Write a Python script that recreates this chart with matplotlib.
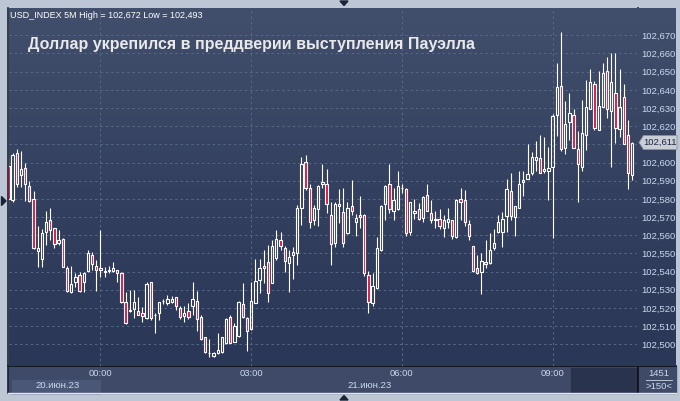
import numpy as np
import pandas as pd
import matplotlib.pyplot as plt
from matplotlib.colors import LinearSegmentedColormap
from matplotlib.patches import Rectangle, Polygon

# USD_INDEX, 5-minute candles, 20-21 June 2023
times = pd.date_range("2023-06-20 22:10", periods=150, freq="5min")

opens = [102.598, 102.5795, 102.6052, 102.5929, 102.5969, 102.5872, 102.5799, 102.5515, 102.5468, 102.562,
         102.5684, 102.5639, 102.5559, 102.558, 102.5418, 102.5289, 102.5341, 102.5381, 102.5345, 102.5403,
         102.5492, 102.5431, 102.5409, 102.5403, 102.5405, 102.5405, 102.5409, 102.5391, 102.5231, 102.5189,
         102.5194, 102.5183, 102.517, 102.5143, 102.5341, 102.5161, 102.517, 102.5236, 102.5229, 102.5234,
         102.5259, 102.5198, 102.5157, 102.5183, 102.5211, 102.5238, 102.5148, 102.5038, 102.495, 102.4937,
         102.495, 102.4956, 102.5005, 102.5148, 102.5014, 102.5045, 102.5222, 102.5143, 102.5082, 102.5229,
         102.5354, 102.5431, 102.5455, 102.5339, 102.5473, 102.5574, 102.5529, 102.5449, 102.5492, 102.5501,
         102.5749, 102.6002, 102.5859, 102.5681, 102.5743, 102.5881, 102.5881, 102.5712, 102.5556, 102.5758,
         102.5725, 102.5611, 102.5762, 102.5672, 102.5712, 102.5712, 102.5381, 102.5229, 102.5308, 102.5519,
         102.5771, 102.5883, 102.5734, 102.5743, 102.5859, 102.5854, 102.562, 102.5721, 102.5743, 102.5697,
         102.5822, 102.5721, 102.569, 102.569, 102.5639, 102.5672, 102.5684, 102.5589, 102.5799, 102.5795,
         102.5661, 102.5541, 102.5418, 102.54, 102.5453, 102.5446, 102.5529, 102.562, 102.562, 102.5703,
         102.5844, 102.5699, 102.5749, 102.5892, 102.591, 102.5942, 102.6015, 102.6024, 102.5951, 102.5951,
         102.5978, 102.6259, 102.6423, 102.608, 102.6223, 102.6259, 102.6074, 102.5978, 102.6153, 102.6294,
         102.6432, 102.618, 102.6305, 102.6502, 102.6285, 102.6383, 102.6184, 102.6361, 102.6149, 102.5932]
highs = [102.603, 102.6054, 102.6076, 102.6065, 102.5999, 102.5896, 102.5844, 102.5651, 102.5633, 102.5734,
         102.5751, 102.5642, 102.5629, 102.5582, 102.5431, 102.5431, 102.5392, 102.54, 102.54, 102.5519,
         102.551, 102.5464, 102.5629, 102.5426, 102.5431, 102.5453, 102.5409, 102.54, 102.5289, 102.5299,
         102.5299, 102.5262, 102.5207, 102.5345, 102.5345, 102.517, 102.5234, 102.5249, 102.5271, 102.5266,
         102.5262, 102.5211, 102.5211, 102.5226, 102.5345, 102.5293, 102.5161, 102.504, 102.5027, 102.4959,
         102.506, 102.5041, 102.5146, 102.5161, 102.5115, 102.5238, 102.5336, 102.5152, 102.5345, 102.5468,
         102.5468, 102.5519, 102.5547, 102.5574, 102.5629, 102.5615, 102.5541, 102.5519, 102.5537, 102.5767,
         102.6033, 102.6043, 102.5883, 102.5767, 102.5874, 102.5993, 102.5966, 102.5782, 102.5785, 102.5855,
         102.5859, 102.5785, 102.5905, 102.5718, 102.5813, 102.5714, 102.5403, 102.5394, 102.5592, 102.5764,
         102.5874, 102.5993, 102.5859, 102.5954, 102.5883, 102.5859, 102.5784, 102.5799, 102.5777, 102.5813,
         102.5883, 102.5795, 102.5734, 102.5745, 102.5712, 102.5749, 102.5686, 102.5797, 102.5859, 102.585,
         102.5684, 102.5543, 102.5492, 102.5501, 102.5574, 102.5611, 102.5633, 102.5712, 102.573, 102.5909,
         102.5942, 102.5763, 102.5954, 102.5954, 102.6103, 102.6058, 102.6116, 102.6153, 102.6138, 102.6083,
         102.6269, 102.6548, 102.672, 102.6336, 102.6383, 102.6296, 102.6175, 102.6346, 102.6456, 102.6515,
         102.6447, 102.6502, 102.6548, 102.6579, 102.6603, 102.6603, 102.6517, 102.6434, 102.6236, 102.6113]
lows = [102.5745, 102.5782, 102.5868, 102.5868, 102.5789, 102.578, 102.5525, 102.5427, 102.5427, 102.5547,
        102.5574, 102.5529, 102.5547, 102.5425, 102.529, 102.5281, 102.5317, 102.5289, 102.5289, 102.54,
        102.5409, 102.5293, 102.5372, 102.5369, 102.5392, 102.54, 102.5345, 102.5226, 102.511, 102.518,
        102.5143, 102.516, 102.5124, 102.514, 102.5133, 102.506, 102.5133, 102.5222, 102.5216, 102.5226,
        102.5189, 102.5137, 102.5124, 102.5137, 102.5161, 102.5075, 102.5023, 102.495, 102.493, 102.493,
        102.4948, 102.4954, 102.5003, 102.5005, 102.5012, 102.5041, 102.5146, 102.4964, 102.508, 102.5227,
        102.5281, 102.5336, 102.5234, 102.5337, 102.5464, 102.5519, 102.54, 102.5289, 102.5358, 102.5437,
        102.5657, 102.585, 102.5639, 102.5657, 102.5648, 102.5859, 102.5721, 102.5437, 102.5537, 102.5666,
        102.5534, 102.5609, 102.5712, 102.5598, 102.5639, 102.5378, 102.517, 102.5212, 102.5306, 102.5515,
        102.5684, 102.5721, 102.5684, 102.574, 102.5832, 102.5598, 102.5602, 102.569, 102.5684, 102.5675,
        102.5732, 102.5666, 102.5639, 102.5633, 102.5589, 102.5639, 102.5578, 102.5587, 102.5684, 102.5648,
        102.5574, 102.54, 102.5389, 102.5277, 102.5418, 102.544, 102.5519, 102.5611, 102.5537, 102.562,
        102.5684, 102.5598, 102.5747, 102.5813, 102.5908, 102.5929, 102.5951, 102.594, 102.5942, 102.5795,
        102.5584, 102.6147, 102.6061, 102.6048, 102.6125, 102.6078, 102.5782, 102.5951, 102.607, 102.6292,
        102.618, 102.6178, 102.6303, 102.6245, 102.5978, 102.611, 102.6143, 102.6101, 102.5854, 102.5905]
closes = [102.580, 102.6043, 102.5881, 102.5964, 102.5881, 102.5789, 102.5529, 102.553, 102.5611, 102.5675,
          102.5629, 102.5551, 102.5574, 102.5427, 102.5293, 102.5332, 102.5372, 102.5293, 102.5391, 102.5501,
          102.544, 102.5409, 102.5422, 102.540, 102.5409, 102.542, 102.5391, 102.5234, 102.5115, 102.5183,
          102.5234, 102.5161, 102.5157, 102.5332, 102.5143, 102.516, 102.5231, 102.5238, 102.5248, 102.5249,
          102.5211, 102.5148, 102.517, 102.5148, 102.5248, 102.5137, 102.5027, 102.4956, 102.4952, 102.4953,
          102.4968, 102.5038, 102.5137, 102.5008, 102.510, 102.5234, 102.5148, 102.5075, 102.5238, 102.5348,
          102.5418, 102.5418, 102.5281, 102.5541, 102.5578, 102.5541, 102.546, 102.5482, 102.551, 102.5751,
          102.5993, 102.5859, 102.5672, 102.5749, 102.5872, 102.5892, 102.5771, 102.5551, 102.5771, 102.5773,
          102.5559, 102.5749, 102.5734, 102.5697, 102.5699, 102.5391, 102.5234, 102.5322, 102.5529, 102.5762,
          102.5872, 102.5743, 102.5795, 102.5872, 102.586, 102.5611, 102.5782, 102.5734, 102.5688, 102.581,
          102.5734, 102.5681, 102.5681, 102.5648, 102.5681, 102.5688, 102.5598, 102.5795, 102.5782, 102.5672,
          102.5598, 102.5405, 102.5391, 102.546, 102.5442, 102.5519, 102.5559, 102.5675, 102.569, 102.5855,
          102.5708, 102.5758, 102.5881, 102.5905, 102.5936, 102.6028, 102.6033, 102.5942, 102.5966, 102.5969,
          102.6254, 102.6416, 102.6074, 102.6213, 102.6272, 102.608, 102.5991, 102.6162, 102.6305, 102.6443,
          102.619, 102.6313, 102.6493, 102.6294, 102.6443, 102.619, 102.6305, 102.6103, 102.5942, 102.611]

price_ticks = [102.50, 102.51, 102.52, 102.53, 102.54, 102.55, 102.56, 102.57, 102.58,
               102.59, 102.60, 102.61, 102.62, 102.63, 102.64, 102.65, 102.66, 102.67]
title = "Доллар укрепился в преддверии выступления Пауэлла"
header = "USD_INDEX 5M High = 102,672 Low = 102,493"
day_labels = ["20.июн.23", "21.июн.23"]

W, H = 680, 401
frame_c = "#bcc6d4"
red = "#e3153f"
txt_c = "#cbd9ef"
grad = LinearSegmentedColormap.from_list("bg", ["#2b3757", "#34405f", "#414f6c"])

fig = plt.figure(figsize=(W / 100, H / 100), dpi=100)
fig.patch.set_facecolor(frame_c)

def fpos(x0, y0, x1, y1):
    # pixel box (top-left origin) -> figure fraction rect
    return [x0 / W, 1 - y1 / H, (x1 - x0) / W, (y1 - y0) / H]

# back canvas for the panels around the chart
back = fig.add_axes([0, 0, 1, 1], zorder=-2)
back.set_xlim(0, W)
back.set_ylim(H, 0)
back.axis("off")
back.add_patch(Rectangle((8, 366), 668, 26.5, color="#3e4a67"))
back.add_patch(Rectangle((12, 380), 88, 12.5, color="#4a5776"))
back.add_patch(Rectangle((571, 368), 66, 24, color="#29334d"))
back.plot([8, 676], [366, 366], color="#0d1018", lw=1.2)
back.plot([637.7, 637.7], [7.5, 392.5], color="#0d1018", lw=1.2)
back.plot([8, 8], [7.5, 392.5], color="#1b2233", lw=1.2)
back.plot([8, 676], [392.8, 392.8], color="#e1e7ee", lw=1)
back.plot([646, 672], [380, 380], color="#cfd9ea", lw=0.6)
back.add_patch(Polygon([[340, 1], [348, 1], [344, 5.5]], color="#1a2438"))
back.add_patch(Polygon([[340, 400], [348, 400], [344, 395.5]], color="#1a2438"))
back.add_patch(Polygon([[1.5, 196.5], [1.5, 205.5], [6, 201]], color="#1a2438"))

# right price panel
rp = fig.add_axes(fpos(638.3, 7.5, 676, 365.5), zorder=0)
rp.imshow(np.linspace(0, 1, 256).reshape(-1, 1), extent=[0, 1, 0, 1], cmap=grad,
          aspect="auto", origin="lower")
rp.axis("off")

# main chart
ax = fig.add_axes(fpos(8.6, 7.5, 637.2, 365.5), zorder=1)
ax.imshow(np.linspace(0, 1, 256).reshape(-1, 1), extent=[0, 1, 0, 1], cmap=grad,
          aspect="auto", origin="lower", transform=ax.transAxes, zorder=0)

x = np.arange(len(times))
o = np.array(opens)
c = np.array(closes)
hi = np.array(highs)
lo = np.array(lows)
top = np.maximum(o, c)
bot = np.minimum(o, c)
up = c >= o

ax.vlines(x, top, hi, color="white", lw=0.8, zorder=3)
ax.vlines(x, lo, bot, color="white", lw=0.8, zorder=3)
ax.bar(x, top - bot, bottom=bot, width=0.55, color=np.where(up, "none", red),
       edgecolor="white", linewidth=0.8, zorder=4)

ax.set_xlim(0.05, 150.2)
ax.set_ylim(102.4883, 102.6853)

hour_idx = [i for i, t in enumerate(times) if t.minute == 0 and t.hour % 3 == 0]
ax.set_xticks(hour_idx)
ax.set_xticklabels([times[i].strftime("%H:%M") for i in hour_idx])
ax.set_yticks(price_ticks)
# the 102,610 label sits under the last-price marker, as in the source chart
ax.set_yticklabels(["" if abs(p - 102.61) < 1e-6 else f"{p:.3f}".replace(".", ",")
                    for p in price_ticks])
ax.yaxis.tick_right()
ax.tick_params(axis="y", length=0, pad=3, labelsize=6.8, labelcolor=txt_c)
ax.tick_params(axis="x", length=0, pad=2.6, labelsize=6.8, labelcolor=txt_c)
for lab in ax.get_xticklabels() + ax.get_yticklabels():
    lab.set_fontfamily("Liberation Sans")
ax.grid(True, color="#58688a", linestyle=(0, (2.5, 3)), linewidth=0.7, zorder=1)
ax.set_axisbelow(True)
for s in ax.spines.values():
    s.set_visible(False)

# overlay for text
front = fig.add_axes([0, 0, 1, 1], zorder=5)
front.set_xlim(0, W)
front.set_ylim(H, 0)
front.axis("off")
front.text(10, 15.5, header, color="white", fontsize=6.5, family="Liberation Sans", va="center")
front.text(28, 45, title, color="#e9e9e9", fontsize=11.5, family="Liberation Sans",
           fontweight="bold", va="center")
front.text(57.5, 386, day_labels[0], color=txt_c, fontsize=6.8, family="Liberation Sans",
           ha="center", va="center")
front.text(369.5, 386, day_labels[1], color=txt_c, fontsize=6.8, family="Liberation Sans",
           ha="center", va="center")
front.text(658.5, 374, "1451", color=txt_c, fontsize=6.8, family="Liberation Sans",
           ha="center", va="center")
front.text(658.5, 386.5, ">150<", color=txt_c, fontsize=6.8, family="Liberation Sans",
           ha="center", va="center")

# last price marker
yc = H - ax.transData.transform((0, closes[-1]))[1]
front.add_patch(Polygon([[639, yc], [643.5, yc - 7], [677, yc - 7], [677, yc + 7], [643.5, yc + 7]],
                        facecolor="#c9ced7", edgecolor="#8a93a6", lw=0.6))
front.text(660, yc, f"{closes[-1]:.3f}".replace(".", ","), color="#1c263c", fontsize=6.8,
           family="Liberation Sans", ha="center", va="center")

fig.savefig("out.png", dpi=100, facecolor=frame_c)
